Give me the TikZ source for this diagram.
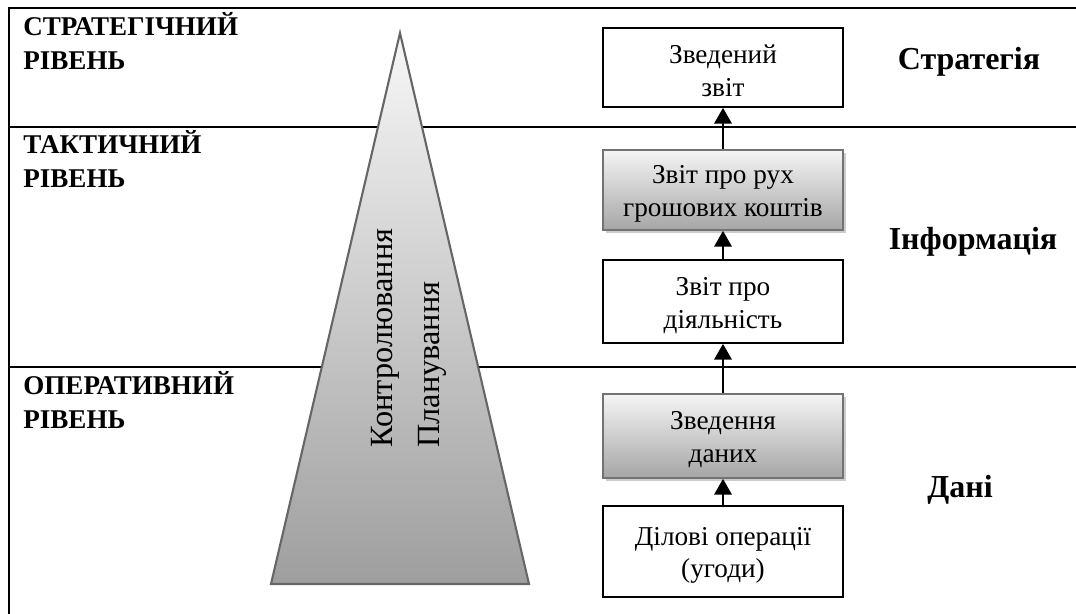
\documentclass[tikz,border=0pt]{standalone}
\usepackage{fontspec}
\setmainfont{Liberation Serif}
\usetikzlibrary{arrows.meta, shadows, positioning}

\tikzset{
  plainbox/.style={rectangle, draw=black, line width=1pt, fill=white,
                   minimum width=4.8cm, align=center, text height=33.5pt,
                   font=\fontsize{15.5}{18.7}\selectfont},
  shadebox/.style={plainbox, draw=black!55, top color=white!96!black,
                   bottom color=black!35,
                   drop shadow={shadow xshift=0.06cm, shadow yshift=-0.06cm,
                                fill=black!20, opacity=1}},
  levellabel/.style={anchor=north west, align=left, inner sep=0pt,
                     font=\bfseries\fontsize{15.4}{19.6}\selectfont},
  zone/.style={font=\bfseries\fontsize{18.2}{21}\selectfont},
  uparrow/.style={-{Triangle[width=10pt,length=9pt]}, line width=1.1pt},
  divider/.style={line width=1.6pt}
}

\begin{document}
\begin{tikzpicture}
          \useasboundingbox (0,0) rectangle (21.52,-12.28);
          % Frame and level separators
          \draw[divider] (0.18,-12.28) -- (0.18,-0.16) -- (21.52,-0.16);
          \draw[divider] (0.18,-2.54) -- (21.52,-2.54);
          \draw[divider] (0.18,-7.34) -- (21.52,-7.34);
          % Level names
          \node[levellabel] (strat) at (0.46,-0.24) {СТРАТЕГІЧНИЙ\\РІВЕНЬ};
          \node[levellabel] (takt)  at (0.46,-2.6)  {ТАКТИЧНИЙ\\РІВЕНЬ};
          \node[levellabel] (oper)  at (0.46,-7.42) {ОПЕРАТИВНИЙ\\РІВЕНЬ};
          % Pyramid
          \coordinate (apex) at (8.0,-0.66);
          \coordinate (bl) at (5.42,-11.68);
          \coordinate (br) at (10.58,-11.68);
          \fill[black!20, shift={(0.08,-0.08)}] (apex) -- (bl) -- (br) -- cycle;
          \shade[top color=white!97!black, bottom color=black!38,
                 draw=black!60, line width=1.2pt]
            (apex) -- (bl) -- (br) -- cycle;
          \node[rotate=90, anchor=base west, inner sep=0pt,
                font=\fontsize{18.4}{22}\selectfont] (kontr) at (7.84,-8.96) {Контролювання};
          \node[rotate=90, anchor=base west, inner sep=0pt,
                font=\fontsize{18.4}{22}\selectfont] (plan) at (8.78,-8.96) {Планування};
          % Reports chain
          \node[plainbox, minimum height=1.58cm] (b1) at (14.46,-1.35) {Зведений\\звіт};
          \node[shadebox, minimum height=1.6cm]  (b2) at (14.46,-3.8)  {Звіт про рух\\грошових коштів};
          \node[plainbox, minimum height=1.66cm] (b3) at (14.46,-6.03) {Звіт про\\діяльність};
          \node[shadebox, minimum height=1.68cm] (b4) at (14.46,-8.72) {Зведення\\даних};
          \node[plainbox, minimum height=1.82cm] (b5) at (14.46,-11.03) {Ділові операції\\(угоди)};
          \draw[uparrow] (b5) -- (b4);
          \draw[uparrow] (b4) -- (b3);
          \draw[uparrow] (b3) -- (b2);
          \draw[uparrow] (b2) -- (b1);
          % Right side captions
          \node[zone] (strtg) at (19.38,-1.24) {Стратегія};
          \node[zone] (inf)   at (19.46,-4.84) {Інформація};
          \node[zone] (dani)  at (19.2,-9.8)   {Дані};
        \end{tikzpicture}
\end{document}
